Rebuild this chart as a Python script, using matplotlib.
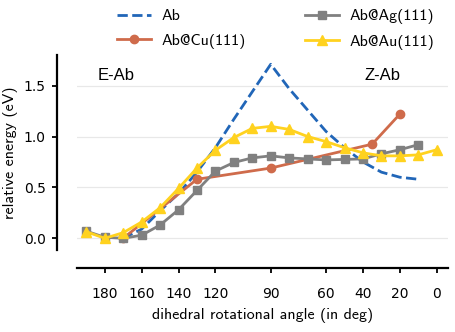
import numpy as np
import matplotlib
matplotlib.use("Agg")
import matplotlib.pyplot as plt

# reaction coordinate: dihedral rotational angle (deg)
ab_angle = [170, 160, 150, 140, 130, 120, 110, 100, 90, 80, 70, 60, 50, 40, 30, 20, 10]
ab_energy = [0.0, 0.09, 0.27, 0.44, 0.65, 0.89, 1.17, 1.44, 1.71, 1.47, 1.26, 1.05, 0.89, 0.75, 0.65, 0.60, 0.58]

cu_angle = [170, 130, 90, 35, 20]
cu_energy = [0.0, 0.58, 0.69, 0.925, 1.22]

ag_angle = [190, 180, 170, 160, 150, 140, 130, 120, 110, 100, 90, 80, 70, 60, 50, 40, 30, 20, 10]
ag_energy = [0.07, 0.01, 0.0, 0.03, 0.13, 0.28, 0.47, 0.66, 0.745, 0.79, 0.81, 0.79, 0.78, 0.77, 0.775, 0.78, 0.83, 0.87, 0.92]

au_angle = [190, 180, 170, 160, 150, 140, 130, 120, 110, 100, 90, 80, 70, 60, 50, 40, 30, 20, 10, 0]
au_energy = [0.065, 0.0, 0.055, 0.16, 0.30, 0.49, 0.69, 0.865, 0.99, 1.08, 1.10, 1.07, 1.00, 0.95, 0.89, 0.84, 0.81, 0.81, 0.82, 0.87]

xticks = [180, 160, 140, 120, 90, 60, 40, 20, 0]
yticks = [0.0, 0.5, 1.0, 1.5]

c_ab = "#2166b8"
c_cu = "#cf6b4b"
c_ag = "#808080"
c_au = "#ffd21f"

fs = 11.5

fig = plt.figure(figsize=(4.56, 3.32), dpi=100)
ax = fig.add_axes([0.169, 0.247, 0.813, 0.587])

ax.plot(ab_angle, ab_energy, "--", color=c_ab, lw=2, label="Ab", zorder=3)
ax.plot(cu_angle, cu_energy, "-o", color=c_cu, lw=2, ms=6, label="Ab@Cu(111)", zorder=3)
ax.plot(ag_angle, ag_energy, "-s", color=c_ag, lw=2, ms=6, label="Ab@Ag(111)", zorder=4)
ax.plot(au_angle, au_energy, "-^", color=c_au, lw=2, ms=7, label="Ab@Au(111)", zorder=5)

ax.set_xlim(195, -6)
ax.set_ylim(-0.115, 1.8)
ax.set_xticks(xticks)
ax.set_xticklabels([str(t) for t in xticks], fontfamily="cmr10", fontsize=fs)
ax.set_yticks(yticks)
ax.set_yticklabels(["%.1f" % t for t in yticks], fontfamily="cmr10", fontsize=fs)

ax.grid(axis="y", color="#e8e8e8", lw=0.9, zorder=0)
ax.set_axisbelow(True)

for s in ["top", "right"]:
    ax.spines[s].set_visible(False)
ax.spines["left"].set_position(("outward", 14.4))
ax.spines["bottom"].set_position(("outward", 13.2))
ax.spines["left"].set_linewidth(1.6)
ax.spines["bottom"].set_linewidth(1.6)
ax.tick_params(axis="x", width=1.3, length=3.8, pad=10)
ax.tick_params(axis="y", width=1.3, length=3.8, pad=4.5)

ax.set_xlabel("dihedral rotational angle (in deg)", fontfamily="cmss10", fontsize=fs, labelpad=5)
ax.set_ylabel("relative energy (eV)", fontfamily="cmss10", fontsize=fs, labelpad=4)

ax.text(184, 1.6, "E-Ab", fontsize=12, fontfamily="Liberation Sans", va="center")
ax.text(39, 1.6, "Z-Ab", fontsize=12, fontfamily="Liberation Sans", va="center")

fig.legend(loc="center", bbox_to_anchor=(0.605, 0.911), ncol=2, frameon=False,
           prop={"family": "cmss10", "size": fs}, handlelength=2.1, handletextpad=0.7,
           columnspacing=3.7, labelspacing=0.65)

fig.savefig("out.png", dpi=100)
